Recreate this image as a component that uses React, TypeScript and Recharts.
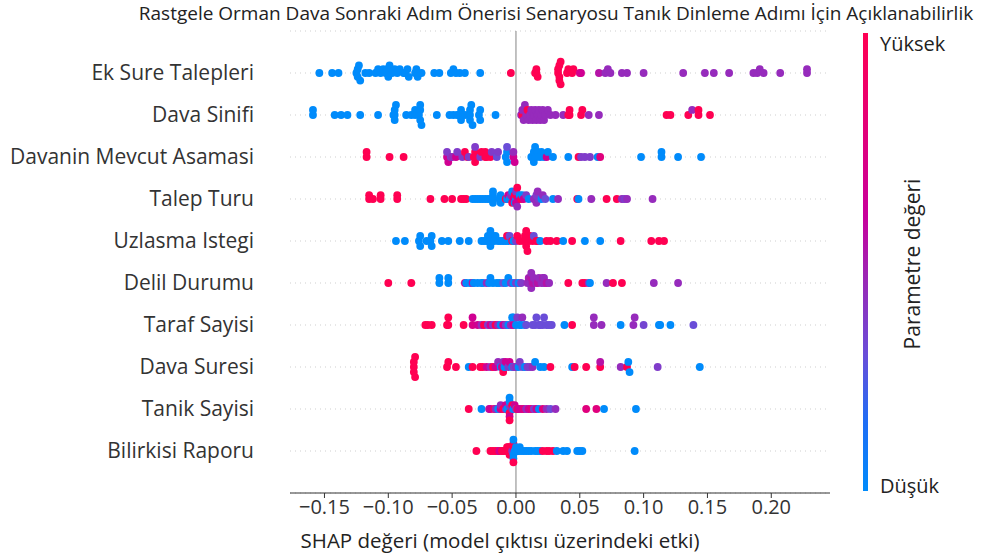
import {
  ScatterChart,
  Scatter,
  XAxis,
  YAxis,
  CartesianGrid,
  ReferenceLine,
} from "recharts";

// feature names, top row first
const features = [
  "Ek Sure Talepleri",
  "Dava Sinifi",
  "Davanin Mevcut Asamasi",
  "Talep Turu",
  "Uzlasma Istegi",
  "Delil Durumu",
  "Taraf Sayisi",
  "Dava Suresi",
  "Tanik Sayisi",
  "Bilirkisi Raporu",
];

const xTicks = [-0.15, -0.1, -0.05, 0, 0.05, 0.1, 0.15, 0.2];

// [shap value, feature value 0 = low .. 1 = high]
const ekSure: [number, number][] = [
  [-0.154, 0], [-0.144, 0], [-0.139, 0], [-0.125, 0], [-0.124, 0], [-0.124, 0], [-0.123, 0], [-0.122, 0],
  [-0.118, 0], [-0.115, 0], [-0.11, 0], [-0.108, 0], [-0.106, 0], [-0.104, 0], [-0.102, 0], [-0.101, 0],
  [-0.1, 0], [-0.099, 0], [-0.097, 0], [-0.095, 0], [-0.093, 0], [-0.091, 0], [-0.088, 0], [-0.087, 0],
  [-0.085, 0], [-0.084, 0], [-0.079, 0], [-0.078, 0], [-0.077, 0], [-0.074, 0], [-0.064, 0], [-0.06, 0],
  [-0.051, 0], [-0.049, 0], [-0.047, 0], [-0.044, 0], [-0.04, 0], [-0.028, 0],
  [-0.004, 1], [0.015, 1], [0.016, 1], [0.016, 1], [0.017, 1], [0.033, 1], [0.033, 1], [0.034, 1],
  [0.034, 1], [0.034, 1], [0.035, 1], [0.035, 1], [0.04, 1], [0.041, 1], [0.044, 1], [0.045, 1],
  [0.05, 0.75], [0.051, 0.7], [0.065, 0.6], [0.07, 0.5], [0.072, 0.5], [0.074, 0.5], [0.083, 0.5],
  [0.087, 0.5], [0.1, 0.5], [0.131, 0.5], [0.148, 0.5], [0.155, 0.5], [0.167, 0.5], [0.186, 0.5],
  [0.189, 0.5], [0.191, 0.5], [0.194, 0.5], [0.207, 0.5], [0.228, 0.5], [0.228, 0.5],
];

const davaSinifi: [number, number][] = [
  [-0.159, 0], [-0.159, 0], [-0.142, 0], [-0.137, 0], [-0.132, 0], [-0.122, 0], [-0.108, 0], [-0.096, 0],
  [-0.095, 0], [-0.095, 0], [-0.095, 0], [-0.094, 0], [-0.086, 0], [-0.082, 0], [-0.079, 0], [-0.079, 0],
  [-0.076, 0], [-0.075, 0], [-0.075, 0], [-0.075, 0], [-0.074, 0], [-0.062, 0], [-0.052, 0], [-0.049, 0],
  [-0.046, 0], [-0.045, 0], [-0.043, 0], [-0.043, 0], [-0.04, 0], [-0.037, 0], [-0.036, 0], [-0.036, 0],
  [-0.036, 0], [-0.035, 0], [-0.034, 0], [-0.029, 0], [-0.028, 0], [-0.028, 0], [-0.016, 0],
  [0.004, 0.5], [0.005, 1], [0.005, 0.5], [0.006, 0.5], [0.007, 0.5], [0.008, 0.5], [0.009, 1],
  [0.01, 0.5], [0.011, 0.5], [0.012, 0.5], [0.013, 0.5], [0.014, 0.5], [0.015, 0.5], [0.016, 0.5],
  [0.017, 0.5], [0.018, 0.5], [0.019, 0.5], [0.02, 0.5], [0.021, 0.5], [0.022, 0.5], [0.023, 0.5],
  [0.025, 0.5], [0.027, 0.5], [0.031, 0.5],
  [0.037, 0.5], [0.041, 1], [0.042, 1], [0.042, 1], [0.051, 1], [0.052, 1], [0.057, 0.5], [0.065, 0.5],
  [0.118, 1], [0.121, 1], [0.135, 1], [0.138, 0.5], [0.143, 1], [0.143, 1], [0.152, 1],
];

const davaninAsamasi: [number, number][] = [
  [-0.117, 1], [-0.117, 1], [-0.099, 1], [-0.088, 1],
  [-0.054, 0.7], [-0.054, 0.4], [-0.053, 0.7], [-0.051, 0.4], [-0.05, 0.5], [-0.047, 0.7], [-0.046, 0.4],
  [-0.042, 0.4], [-0.04, 1], [-0.038, 1], [-0.037, 0.4], [-0.033, 1], [-0.032, 1], [-0.032, 1],
  [-0.032, 0.4], [-0.031, 1], [-0.028, 0.4], [-0.027, 1], [-0.024, 1], [-0.024, 1], [-0.023, 1],
  [-0.02, 1], [-0.019, 0.4], [-0.015, 0.3], [-0.014, 0.4], [-0.008, 0], [-0.007, 0], [-0.007, 0],
  [-0.007, 0.3], [-0.002, 0.7], [-0.002, 0.5], [-0.001, 0.7],
  [0.012, 0], [0.013, 0], [0.014, 0], [0.014, 0], [0.015, 0], [0.016, 0], [0.017, 0], [0.019, 0],
  [0.02, 0], [0.022, 0], [0.024, 0.7], [0.025, 0], [0.029, 0], [0.041, 0], [0.049, 1], [0.051, 0.4],
  [0.054, 0.4], [0.058, 0.4], [0.064, 0], [0.066, 0.8], [0.098, 0], [0.114, 0], [0.114, 0], [0.127, 0],
  [0.145, 0],
];

const talepTuru: [number, number][] = [
  [-0.115, 1], [-0.115, 1], [-0.112, 1], [-0.106, 1], [-0.106, 1], [-0.093, 1], [-0.093, 1], [-0.067, 1],
  [-0.056, 1], [-0.05, 1], [-0.043, 1], [-0.041, 1], [-0.039, 1],
  [-0.034, 0], [-0.032, 0], [-0.03, 0], [-0.028, 0], [-0.026, 0], [-0.024, 0], [-0.022, 0], [-0.02, 0],
  [-0.018, 0], [-0.018, 0], [-0.018, 0], [-0.018, 0], [-0.013, 0], [-0.012, 0], [-0.012, 0],
  [-0.008, 1], [-0.007, 0], [-0.006, 0.7], [-0.005, 0], [-0.004, 0.5], [-0.003, 1], [-0.003, 0],
  [-0.002, 0.7], [-0.001, 1], [-0.001, 0], [0.0, 0], [0.0, 1], [0.0, 0.7], [0.0, 0.4], [0.001, 0.5],
  [0.001, 1], [0.002, 0.7], [0.003, 0], [0.004, 1], [0.005, 0], [0.006, 0.7], [0.008, 0.4], [0.01, 0],
  [0.014, 0.5], [0.015, 0.5], [0.016, 0.4], [0.016, 0.5], [0.017, 0.5], [0.018, 0.4], [0.02, 0],
  [0.021, 0.5], [0.023, 0.3], [0.029, 0], [0.033, 0.5], [0.048, 1], [0.049, 0], [0.059, 0.5], [0.071, 1],
  [0.079, 1], [0.083, 0.5], [0.085, 0.4], [0.087, 0.5], [0.107, 0.5],
];

const uzlasma: [number, number][] = [
  [-0.094, 0], [-0.087, 0], [-0.076, 0], [-0.075, 0], [-0.075, 0], [-0.07, 0], [-0.067, 0], [-0.066, 0],
  [-0.066, 0], [-0.058, 0], [-0.053, 0], [-0.044, 0], [-0.037, 0], [-0.027, 0], [-0.025, 0], [-0.023, 0],
  [-0.022, 0], [-0.021, 0], [-0.02, 0], [-0.02, 0], [-0.02, 0], [-0.019, 0], [-0.018, 0], [-0.017, 0],
  [-0.016, 0], [-0.014, 0], [-0.012, 0], [-0.01, 0], [-0.008, 0], [-0.006, 0],
  [-0.007, 1], [-0.005, 0.3], [-0.003, 1], [-0.002, 0], [0.0, 0.4], [0.001, 1], [0.003, 1],
  [0.006, 1], [0.007, 1], [0.008, 1], [0.008, 1], [0.008, 1], [0.008, 1], [0.009, 1], [0.01, 1],
  [0.011, 1], [0.013, 1], [0.014, 0.3], [0.016, 1], [0.017, 1], [0.019, 0], [0.024, 1], [0.027, 1],
  [0.032, 1], [0.037, 0], [0.044, 1], [0.054, 0], [0.066, 0], [0.082, 1], [0.106, 1], [0.112, 1],
  [0.116, 1],
];

const delilDurumu: [number, number][] = [
  [-0.1, 1], [-0.082, 1], [-0.06, 0], [-0.06, 0], [-0.053, 0], [-0.053, 0], [-0.04, 0.7], [-0.039, 0],
  [-0.036, 0], [-0.034, 0.6], [-0.033, 0], [-0.03, 0], [-0.027, 0], [-0.026, 0], [-0.023, 0.5],
  [-0.021, 0], [-0.02, 0], [-0.018, 0], [-0.015, 0], [-0.013, 0], [-0.01, 0.3], [-0.008, 0], [-0.006, 0],
  [-0.004, 0.4], [-0.002, 0], [0.0, 0.4], [0.002, 0], [0.004, 0.4],
  [0.009, 0.5], [0.01, 0.55], [0.011, 0.5], [0.012, 0.6], [0.012, 0.5], [0.012, 0.5], [0.013, 0.6],
  [0.014, 0.5], [0.016, 0.5], [0.017, 0.6], [0.018, 0.5], [0.02, 0.5], [0.021, 0.55], [0.022, 0.5],
  [0.022, 0.5], [0.024, 0.6], [0.026, 0.5],
  [0.041, 1], [0.052, 1], [0.054, 1], [0.057, 0.5], [0.058, 0], [0.071, 0.5], [0.076, 1], [0.083, 1],
  [0.108, 0.5], [0.127, 0.5],
];

const tarafSayisi: [number, number][] = [
  [-0.071, 1], [-0.069, 1], [-0.066, 1], [-0.054, 1], [-0.053, 1], [-0.053, 1], [-0.041, 1],
  [-0.034, 0.75], [-0.034, 0.7], [-0.03, 0.7], [-0.027, 0.5], [-0.025, 1], [-0.022, 0.4], [-0.02, 0.7],
  [-0.018, 0.4], [-0.016, 1], [-0.014, 0.5], [-0.012, 0], [-0.01, 0.7], [-0.008, 0.4], [-0.006, 0],
  [-0.004, 0.5], [-0.003, 0], [-0.002, 0.7], [-0.002, 0], [0.0, 0], [0.001, 0.4], [0.003, 0], [0.004, 0],
  [0.005, 0.5], [0.007, 0], [0.008, 0.3],
  [0.013, 0.3], [0.015, 0.3], [0.016, 0.3], [0.018, 0.3], [0.019, 0.3], [0.021, 0.3], [0.022, 0.3],
  [0.024, 0.3], [0.026, 0.3], [0.028, 0.3], [0.038, 0], [0.044, 1], [0.061, 0.5], [0.061, 0.5],
  [0.067, 0.5], [0.082, 0], [0.092, 0.5], [0.093, 0.5], [0.1, 0.35], [0.112, 0], [0.113, 0], [0.121, 0],
  [0.139, 0.3],
];

const davaSuresi: [number, number][] = [
  [-0.08, 1], [-0.08, 1], [-0.08, 1], [-0.079, 1], [-0.079, 1], [-0.054, 1], [-0.053, 1], [-0.047, 1],
  [-0.037, 0], [-0.034, 1], [-0.028, 1], [-0.026, 1], [-0.023, 0.7], [-0.02, 0.5], [-0.018, 1],
  [-0.016, 0.7], [-0.014, 0.5], [-0.012, 0], [-0.011, 0.7], [-0.01, 0.5], [-0.01, 1], [-0.009, 0],
  [-0.008, 0.7], [-0.006, 0.4], [-0.005, 0.7], [-0.003, 0], [-0.002, 0.4], [0.0, 0.5], [0.002, 0],
  [0.003, 0.4], [0.005, 0.3], [0.007, 0], [0.009, 0.4], [0.011, 0.4], [0.013, 0.5], [0.015, 0],
  [0.019, 0], [0.022, 0], [0.027, 1], [0.044, 0], [0.046, 1], [0.055, 1], [0.066, 1], [0.066, 0.6],
  [0.082, 0.5], [0.087, 1], [0.088, 0], [0.089, 0], [0.111, 0.4], [0.144, 0],
];

const tanikSayisi: [number, number][] = [
  [-0.037, 1], [-0.027, 0], [-0.021, 0.6], [-0.02, 0.7], [-0.017, 1], [-0.016, 0.5], [-0.014, 0],
  [-0.012, 0.7], [-0.012, 0.5], [-0.01, 1], [-0.008, 0.4], [-0.008, 0.7], [-0.007, 0], [-0.005, 0],
  [-0.005, 0.4], [-0.005, 1], [-0.005, 0], [-0.005, 0.7], [-0.005, 0], [-0.005, 1], [-0.003, 0.5],
  [-0.003, 1], [-0.002, 0], [-0.001, 0.7], [0.0, 0.4], [0.001, 1], [0.002, 0.7], [0.004, 0.7],
  [0.006, 0.8], [0.008, 0.5], [0.01, 0.7], [0.012, 0.8], [0.014, 0.4], [0.016, 0.7], [0.018, 0],
  [0.021, 0.8], [0.024, 0.5], [0.027, 0.3], [0.031, 0.5], [0.055, 0.8], [0.063, 0.8], [0.069, 0],
  [0.094, 0],
];

const bilirkisi: [number, number][] = [
  [-0.031, 1], [-0.02, 1], [-0.018, 1], [-0.016, 1], [-0.014, 1], [-0.013, 0.7], [-0.011, 1], [-0.01, 1],
  [-0.008, 1], [-0.007, 1], [-0.006, 1], [-0.006, 1], [-0.005, 1], [-0.005, 1], [-0.005, 1], [-0.004, 1],
  [-0.003, 0.4], [-0.002, 1], [-0.002, 0], [-0.002, 1], [-0.002, 0], [-0.002, 0], [-0.002, 1],
  [-0.001, 0], [0.0, 0], [0.0, 0], [0.001, 0], [0.002, 0], [0.003, 0], [0.004, 0], [0.006, 0],
  [0.008, 0], [0.01, 0], [0.012, 0], [0.015, 0], [0.017, 0], [0.019, 0], [0.021, 1], [0.024, 1],
  [0.026, 1], [0.029, 1], [0.032, 0], [0.037, 0], [0.04, 0], [0.048, 0], [0.05, 0], [0.052, 0],
  [0.093, 0],
];

const rows = [
  ekSure, davaSinifi, davaninAsamasi, talepTuru, uzlasma,
  delilDurumu, tarafSayisi, davaSuresi, tanikSayisi, bilirkisi,
];

// low -> high colour stops, same as the colour bar
const stops: [number, number[]][] = [
  [0, [0, 139, 251]],
  [0.15, [31, 110, 245]],
  [0.3, [106, 77, 216]],
  [0.5, [150, 43, 188]],
  [0.68, [205, 0, 150]],
  [1, [255, 0, 82]],
];

function colorFor(c: number) {
  for (let i = 1; i < stops.length; i++) {
    const [p1, c1] = stops[i];
    const [p0, c0] = stops[i - 1];
    if (c <= p1) {
      const t = (c - p0) / (p1 - p0);
      const rgb = c0.map((v, k) => Math.round(v + (c1[k] - v) * t));
      return `rgb(${rgb.join(",")})`;
    }
  }
  return "rgb(255,0,82)";
}

// beeswarm layout like shap: bin by x, stack points in a bin up / down
function swarm(row: [number, number][], base: number) {
  const xs = row.map((p) => p[0]);
  const lo = Math.min(...xs);
  const hi = Math.max(...xs);
  const nbins = 100;
  const quant = xs.map((x) => Math.round((nbins * (x - lo)) / (hi - lo + 1e-8)));
  const order = xs.map((_, i) => i).sort((a, b) => quant[a] - quant[b] || a - b);
  const ys: number[] = new Array(xs.length).fill(0);
  let layer = 0;
  let last = -1;
  for (const i of order) {
    if (quant[i] !== last) layer = 0;
    ys[i] = Math.ceil(layer / 2) * ((layer % 2) * 2 - 1);
    layer++;
    last = quant[i];
  }
  const m = Math.max(...ys.map((v) => v + 1));
  const s = (0.9 * 0.4) / m;
  return row.map((p, i) => ({ x: p[0], y: base + ys[i] * s, c: p[1] }));
}

const points = rows.flatMap((r, i) => swarm(r, features.length - 1 - i));

const font = "'Open Sans', sans-serif";

function Dot(props: any) {
  const { cx, cy, payload } = props;
  return <circle cx={cx} cy={cy} r={3.9} fill={colorFor(payload.c)} />;
}

export default function App() {
  return (
    <div
      style={{
        position: "absolute",
        left: 0,
        top: 0,
        width: 998,
        height: 554,
        background: "#fff",
        fontFamily: font,
      }}
    >
      <div
        style={{
          position: "absolute",
          left: 556,
          top: 0,
          transform: "translateX(-50%)",
          whiteSpace: "nowrap",
          fontSize: 19,
          color: "#222",
        }}
      >
        Rastgele Orman Dava Sonraki Adım Önerisi Senaryosu Tanık Dinleme Adımı İçin Açıklanabilirlik
      </div>

      <ScatterChart
        width={998}
        height={554}
        margin={{ top: 31, right: 168, bottom: 0, left: 0 }}
      >
        <CartesianGrid
          horizontal
          vertical={false}
          stroke="#cfcfcf"
          strokeDasharray="1 4"
        />
        <XAxis
          type="number"
          dataKey="x"
          domain={[-0.177, 0.246]}
          ticks={xTicks}
          height={61}
          tickSize={5}
          tickFormatter={(v: number) => (v < 0 ? "\u2212" : "") + Math.abs(v).toFixed(2)}
          tick={{ fontSize: 20, fill: "#333", fontFamily: font }}
          stroke="#333"
          label={{
            value: "SHAP değeri (model çıktısı üzerindeki etki)",
            position: "insideBottom",
            offset: 6,
            dx: -60,
            style: { fontSize: 20.5, fill: "#222", fontFamily: font },
          }}
        />
        <YAxis
          type="number"
          dataKey="y"
          domain={[-1, features.length]}
          ticks={features.map((_, i) => i)}
          width={290}
          axisLine={false}
          tickLine={false}
          tickSize={0}
          tickMargin={36}
          tickFormatter={(v: number) => features[features.length - 1 - v]}
          tick={{ fontSize: 21, fill: "#333", fontFamily: font }}
        />
        <ReferenceLine x={0} stroke="#999" strokeWidth={1.2} />
        <Scatter data={points} shape={<Dot />} isAnimationActive={false} />
      </ScatterChart>

      <div
        style={{
          position: "absolute",
          left: 863,
          top: 33,
          width: 5,
          height: 458,
          background:
            "linear-gradient(to bottom, #ff0052 0%, #c8009c 40%, #962bb8 55%, #6a4dd8 70%, #1f6ef5 85%, #008bfb 100%)",
        }}
      />
      <div style={{ position: "absolute", left: 880, top: 30, fontSize: 20, color: "#222" }}>
        Yüksek
      </div>
      <div style={{ position: "absolute", left: 880, top: 472, fontSize: 20, color: "#222" }}>
        Düşük
      </div>
      <div
        style={{
          position: "absolute",
          left: 912,
          top: 264,
          transform: "translate(-50%, -50%) rotate(-90deg)",
          whiteSpace: "nowrap",
          fontSize: 21,
          color: "#222",
        }}
      >
        Parametre değeri
      </div>
    </div>
  );
}
